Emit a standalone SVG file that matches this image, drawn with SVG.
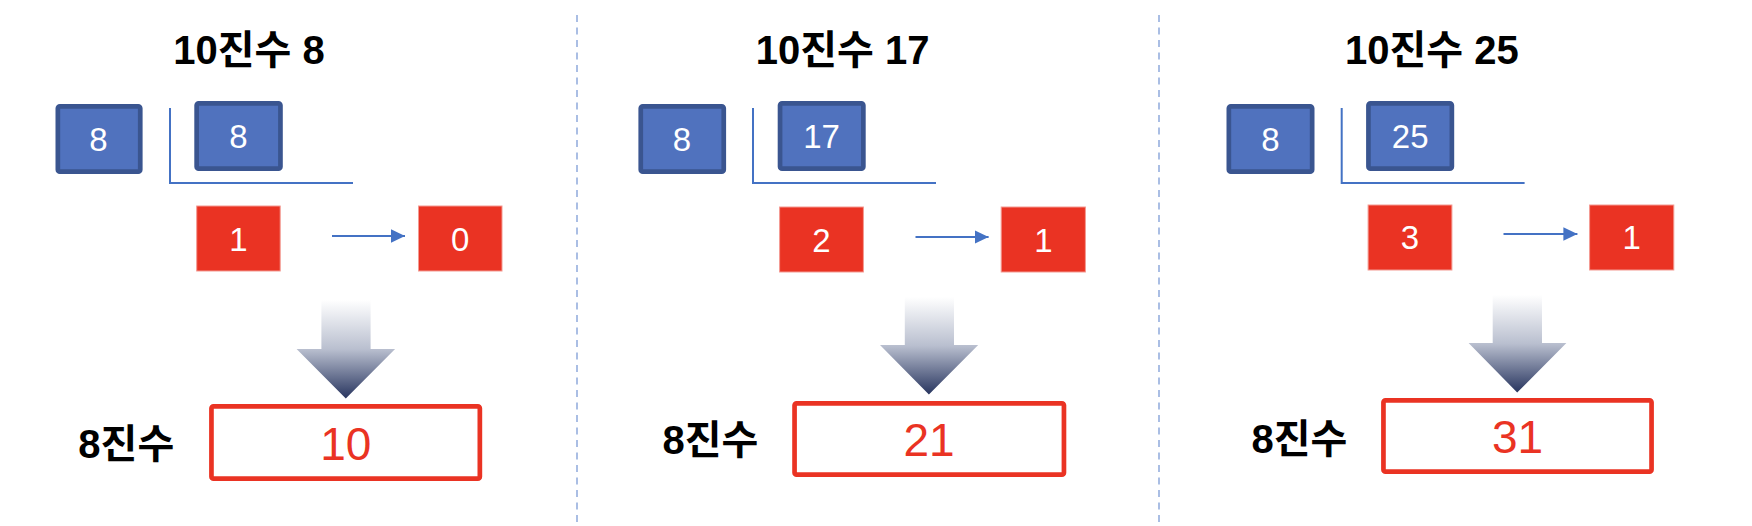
<svg xmlns="http://www.w3.org/2000/svg" width="1752" height="526" viewBox="0 0 1752 526">
<defs>
<linearGradient id="fade" x1="0" y1="0" x2="0" y2="1">
<stop offset="0" stop-color="#ffffff"/>
<stop offset="0.5" stop-color="#b9bfcf"/>
<stop offset="1" stop-color="#28355f"/>
</linearGradient>
<marker id="ah" markerUnits="userSpaceOnUse" markerWidth="15" markerHeight="14" refX="14" refY="6.75" orient="auto">
<path d="M0,0 L14,6.75 L0,13.5 z" fill="#4472C4"/>
</marker>
<style>
.title{font-family:"Liberation Sans","Noto Sans CJK KR",sans-serif;font-weight:bold;font-size:40px;fill:#000;text-anchor:middle}
.lbl{font-family:"Liberation Sans","Noto Sans CJK KR",sans-serif;font-weight:bold;font-size:40px;fill:#000;text-anchor:middle}
.blue{fill:#5072BE;stroke:#3A5590;stroke-width:4.7}
.red{fill:#EA3323;stroke:#F39A92;stroke-width:1}
.num{font-family:"Liberation Sans",sans-serif;font-size:33px;fill:#fff;text-anchor:middle}
.res{fill:#fff;stroke:#EA3323;stroke-width:4.7}
.resnum{font-family:"Liberation Sans",sans-serif;font-size:46px;fill:#EA3323;text-anchor:middle}
.brk{fill:none;stroke:#4472C4;stroke-width:2}
.arr{stroke:#4472C4;stroke-width:2;fill:none}
.div{stroke:#8EA9DB;stroke-width:1.5;stroke-dasharray:7 5.5}
.big{fill:url(#fade)}
</style>
</defs>
<g id="dividers">
<line class="div" x1="577" y1="15" x2="577" y2="526"/>
<line class="div" x1="1159" y1="15" x2="1159" y2="526"/>
</g>
<g id="connectors">
<path class="brk" d="M170,108 V183 H353"/>
<line class="arr" x1="332" y1="236" x2="405" y2="236" marker-end="url(#ah)"/>
<path class="big" d="M321.4,300 H370.6 V349 H395.1 L345.8,398.5 L296.6,349 H321.4 Z"/>
<path class="brk" d="M753,108 V183 H936"/>
<line class="arr" x1="915.5" y1="237" x2="988.6" y2="237" marker-end="url(#ah)"/>
<path class="big" d="M904.8,297 H954 V345 H978.2 L928.9,394.5 L880,345 H904.8 Z"/>
<path class="brk" d="M1341.7,108 V183 H1524.6"/>
<line class="arr" x1="1503.5" y1="234" x2="1577.4" y2="234" marker-end="url(#ah)"/>
<path class="big" d="M1492.7,295 H1542 V343 H1566.4 L1517.2,392.5 L1468.6,343 H1492.7 Z"/>
</g>
<g id="panel1">
<text class="title" x="249" y="64">10진수 8</text>
<g id="p1-divisor"><rect class="blue" x="57.85" y="106.35" width="82.4" height="65.3" rx="2"/><text class="num" x="98.5" y="151">8</text></g>
<g id="p1-dividend"><rect class="blue" x="196.65" y="103.35" width="83.8" height="65.3" rx="2"/><text class="num" x="238.5" y="148">8</text></g>
<g id="p1-q"><rect class="red" x="196.7" y="206" width="83.5" height="65"/><text class="num" x="238.5" y="251">1</text></g>
<g id="p1-r"><rect class="red" x="418.5" y="206" width="83.5" height="65"/><text class="num" x="460.2" y="251">0</text></g>
<g id="p1-result"><rect class="res" x="211.45" y="406.35" width="268.4" height="72.3" rx="2"/><text class="resnum" x="345.8" y="460">10</text></g>
<text class="lbl" x="126.3" y="458">8진수</text>
</g>
<g id="panel2">
<text class="title" x="842.6" y="64">10진수 17</text>
<g id="p2-divisor"><rect class="blue" x="640.75" y="106.35" width="83" height="65.3" rx="2"/><text class="num" x="682" y="151">8</text></g>
<g id="p2-dividend"><rect class="blue" x="780.05" y="103.35" width="83.3" height="65.3" rx="2"/><text class="num" x="821.5" y="148">17</text></g>
<g id="p2-q"><rect class="red" x="779.6" y="207" width="83.8" height="65"/><text class="num" x="821.5" y="252">2</text></g>
<g id="p2-r"><rect class="red" x="1001.2" y="207" width="84.2" height="65"/><text class="num" x="1043.5" y="252">1</text></g>
<g id="p2-result"><rect class="res" x="794.55" y="403.35" width="269.4" height="71.3" rx="2"/><text class="resnum" x="929" y="456">21</text></g>
<text class="lbl" x="710.4" y="454">8진수</text>
</g>
<g id="panel3">
<text class="title" x="1431.8" y="64">10진수 25</text>
<g id="p3-divisor"><rect class="blue" x="1228.85" y="106.35" width="83.3" height="65.3" rx="2"/><text class="num" x="1270.5" y="151">8</text></g>
<g id="p3-dividend"><rect class="blue" x="1368.45" y="103.35" width="83.4" height="65.3" rx="2"/><text class="num" x="1410.2" y="148">25</text></g>
<g id="p3-q"><rect class="red" x="1368.1" y="205" width="83.8" height="65"/><text class="num" x="1410" y="249">3</text></g>
<g id="p3-r"><rect class="red" x="1589.6" y="205" width="84.2" height="65"/><text class="num" x="1631.7" y="249">1</text></g>
<g id="p3-result"><rect class="res" x="1383.45" y="400.35" width="268.1" height="71.3" rx="2"/><text class="resnum" x="1517.5" y="453">31</text></g>
<text class="lbl" x="1299.4" y="453">8진수</text>
</g>
</svg>
